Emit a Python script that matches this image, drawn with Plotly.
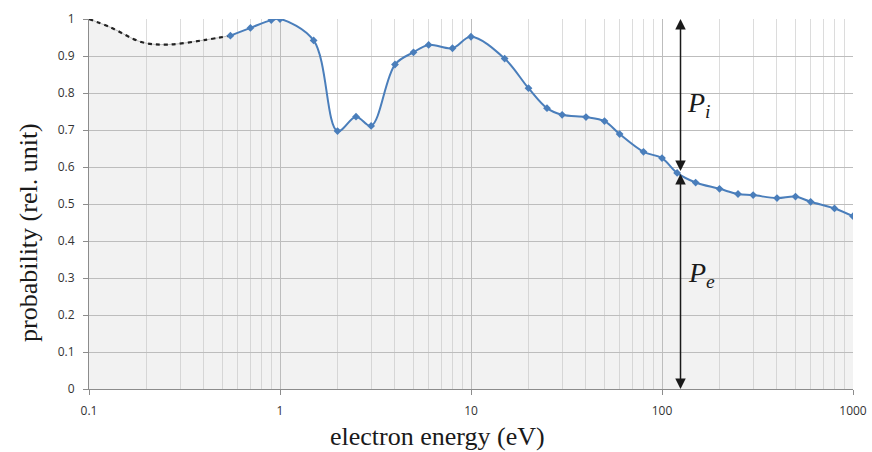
import plotly.graph_objects as go
import math

# Extrapolated (dashed) low-energy part
dash_energy = [0.1, 0.13, 0.19, 0.26, 0.4, 0.55]
dash_prob = [1.0, 0.977, 0.937, 0.931, 0.943, 0.955]

# Measured points (blue)
energy = [0.55, 0.7, 0.9, 1.0, 1.5, 2, 2.5, 3, 4, 5, 6, 8, 10, 15, 20, 25, 30, 40, 50,
          60, 80, 100, 120, 150, 200, 250, 300, 400, 500, 600, 800, 1000]
prob = [0.955, 0.976, 0.997, 1.0, 0.942, 0.697, 0.736, 0.711, 0.877, 0.910, 0.930, 0.921,
        0.952, 0.893, 0.813, 0.759, 0.741, 0.735, 0.724, 0.689, 0.641, 0.624, 0.584,
        0.558, 0.541, 0.527, 0.524, 0.516, 0.520, 0.506, 0.488, 0.467]

x_tick_vals = [0.1, 1, 10, 100, 1000]
x_tick_text = ["0.1", "1", "10", "100", "1000"]
y_tick_vals = [i / 10 for i in range(11)]
minor_vals = [m * 10 ** d for d in range(-1, 3) for m in range(2, 10)]

x_title = "electron energy (eV)"
y_title = "probability (rel. unit)"

arrow_energy = 125
split_level = 0.585
top_level = 1.0
bottom_level = 0.0

BLUE = "#4a7ebb"
serif = "Liberation Serif"

fig = go.Figure()

# gray fill under whole curve
fig.add_trace(go.Scatter(
    x=dash_energy + energy[1:], y=dash_prob + prob[1:],
    mode="lines", line=dict(width=0, shape="spline"),
    fill="tozeroy", fillcolor="rgba(190,190,190,0.2)",
    hoverinfo="skip", showlegend=False))

fig.add_trace(go.Scatter(
    x=dash_energy, y=dash_prob, mode="lines",
    line=dict(color="#bbbbbb", width=1, shape="spline"),
    hoverinfo="skip", showlegend=False))
fig.add_trace(go.Scatter(
    x=dash_energy, y=dash_prob, mode="lines",
    line=dict(color="#222222", width=2.2, dash="4px,4px", shape="spline"),
    showlegend=False))

fig.add_trace(go.Scatter(
    x=energy, y=prob, mode="lines+markers",
    line=dict(color=BLUE, width=2, shape="spline"),
    marker=dict(symbol="diamond", size=6, color=BLUE),
    showlegend=False))

lx = math.log10(arrow_energy)
for y0, y1 in [(split_level, top_level), (split_level, bottom_level)]:
    fig.add_annotation(x=lx, y=y1, ax=lx, ay=y0, xref="x", yref="y", axref="x", ayref="y",
                       showarrow=True, arrowhead=2, arrowsize=1.4, arrowwidth=1.5,
                       arrowcolor="#1a1a1a", startarrowhead=2, startarrowsize=1.4,
                       arrowside="end+start", text="", standoff=0, startstandoff=0)

fig.add_annotation(x=lx, y=0.77, xref="x", yref="y", text="<i>P<sub>i</sub></i>",
                   showarrow=False, xanchor="left", xshift=4,
                   font=dict(family=serif, size=28, color="#1a1a1a"))
fig.add_annotation(x=lx, y=0.31, xref="x", yref="y", text="<i>P<sub>e</sub></i>",
                   showarrow=False, xanchor="left", xshift=5,
                   font=dict(family=serif, size=28, color="#1a1a1a"))

# axis titles
fig.add_annotation(x=437, y=452 - 436, xref="paper", yref="paper", text=x_title,
                   showarrow=False, xanchor="center", yanchor="middle",
                   font=dict(family=serif, size=26, color="#1a1a1a"))
fig.add_annotation(x=28, y=452 - 233, xref="paper", yref="paper", text=y_title,
                   showarrow=False, xanchor="center", yanchor="middle", textangle=-90,
                   font=dict(family=serif, size=26, color="#1a1a1a"))

# convert pixel positions of titles to paper coordinates
W, H = 872, 452
ML, MR, MT, MB = 89, 19, 19, 63
pw, ph = W - ML - MR, H - MT - MB
for ann in fig.layout.annotations[-2:]:
    ann.x = (ann.x - ML) / pw
    ann.y = (ann.y - MB) / ph

tickfont = dict(family="Open Sans", size=12, color="#333333")
fig.update_layout(
    width=W, height=H,
    margin=dict(l=ML, r=MR, t=MT, b=MB, autoexpand=False),
    paper_bgcolor="white", plot_bgcolor="white",
    xaxis=dict(type="log", range=[-1, 3], tickmode="array", tickvals=x_tick_vals,
               ticktext=x_tick_text, showgrid=True, gridcolor="#bdbdbd", gridwidth=1,
               showline=True, linecolor="#8c8c8c", linewidth=1, ticks="outside",
               ticklen=5, tickcolor="#8c8c8c", tickfont=tickfont, zeroline=False,
               automargin=False, ticklabelstandoff=6,
               minor=dict(tickmode="array", tickvals=minor_vals, showgrid=True,
                          gridcolor="#dcdcdc", gridwidth=1)),
    yaxis=dict(range=[0, 1], tickmode="array", tickvals=y_tick_vals,
               showgrid=True, gridcolor="#bdbdbd", gridwidth=1,
               showline=True, linecolor="#8c8c8c", linewidth=1, ticks="outside",
               ticklen=5, tickcolor="#8c8c8c", tickfont=tickfont, zeroline=False,
               automargin=False, ticklabelstandoff=6),
)

fig.write_html("out.html")
